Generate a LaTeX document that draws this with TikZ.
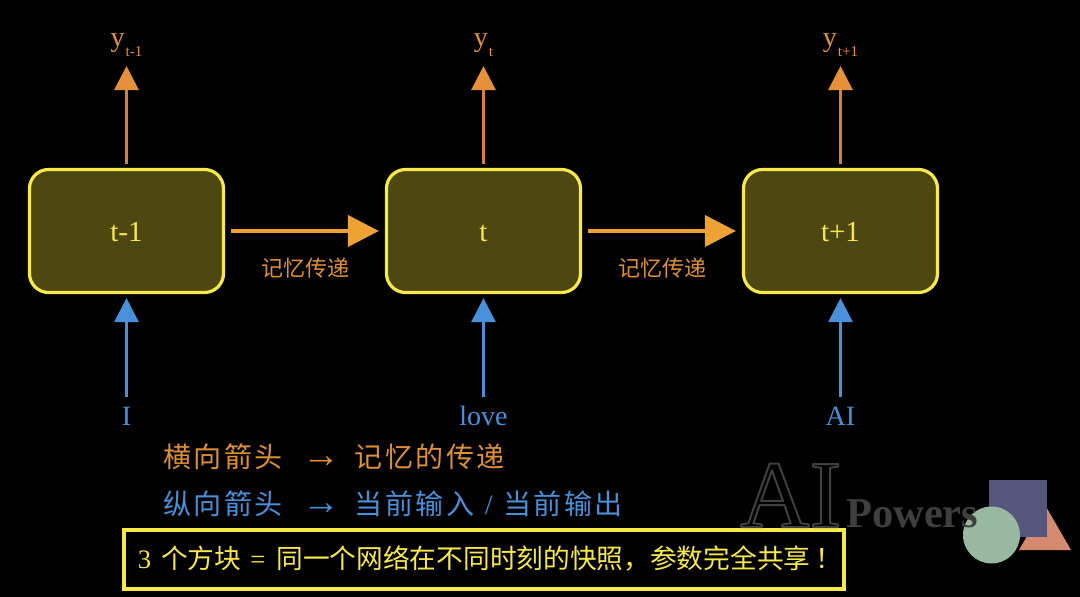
\documentclass[tikz,border=0pt]{standalone}
\usepackage{fontspec}
\usepackage{xcolor}
\usetikzlibrary{arrows.meta}
\setmainfont{Liberation Serif}
\newfontfamily\cjk{Noto Sans CJK SC}
\newfontfamily\cjkwide[LetterSpace=9]{Noto Sans CJK SC}
\definecolor{boxfill}{HTML}{4D4712}
\definecolor{boxline}{HTML}{F7E94A}
\definecolor{memline}{HTML}{EFA234}
\definecolor{outline}{HTML}{D6803C}
\definecolor{outhead}{HTML}{E5913B}
\definecolor{memtext}{HTML}{DD9035}
\definecolor{inblue}{HTML}{4A90D9}
\definecolor{logogray}{HTML}{3F3F3F}
\definecolor{logotri}{HTML}{D58A70}
\definecolor{logosq}{HTML}{55567A}
\definecolor{logocirc}{HTML}{98B8A2}
\tikzset{
  cellbox/.style={draw=boxline, fill=boxfill, line width=3.2pt, rounded corners=19pt,
    minimum width=194pt, minimum height=123pt, text=boxline, font=\fontsize{29}{29}\selectfont,
    text height=20pt, text depth=0pt, inner sep=0pt},
  outlabel/.style={anchor=south, inner sep=0pt, text=outhead, text depth=19pt,
    font=\fontsize{28}{28}\selectfont},
  inlabel/.style={anchor=north, inner sep=0pt, text=inblue, text height=28pt,
    font=\fontsize{28}{28}\selectfont},
  memlabel/.style={text=memtext, inner sep=0pt, font=\fontsize{22}{22}\selectfont\cjk},
  memarrow/.style={memline, line width=4pt, -{Triangle[width=31pt,length=31pt]},
    shorten <=6pt, shorten >=6pt},
  outarrow/.style={outline, line width=3pt, -{Triangle[width=24pt,length=24pt,color=outhead]}, shorten <=4pt},
  inarrow/.style={inblue, line width=3pt, -{Triangle[width=24pt,length=24pt]}, shorten >=4pt},
  noteline/.style={anchor=west, inner sep=0pt, font=\fontsize{28}{28}\selectfont\cjkwide}
}
\newcommand{\outname}[1]{y\raisebox{-10pt}{\fontsize{15}{15}\selectfont\kern1pt #1}}
\newcommand{\notearrow}{\hspace{20pt}{\rmfamily\fontsize{38}{38}\selectfont →}\hspace{14pt}}
\begin{document}
\begin{tikzpicture}[x=1pt,y=-1pt]
\fill[black] (0,0) rectangle (1080,597);
\useasboundingbox (0,0) rectangle (1080,597);
\def\yc{231};

% three cells with their input and output
\foreach \i/\x/\cell/\word in {1/126.5/t-1/I, 2/483.5/t/love, 3/840.5/t+1/AI}{
  \node[cellbox] (b\i) at (\x,\yc) {\cell};
  \node[outlabel] (y\i) at (\x,66) {\outname{\cell}};
  \node[inlabel] (w\i) at (\x,397) {\word};
  \draw[outarrow] (b\i) -- (y\i);
  \draw[inarrow] (w\i) -- (b\i);
}

% memory passed along
\foreach \i/\j in {1/2, 2/3}{
  \draw[memarrow] (b\i) -- (b\j);
  \path (b\i.east) -- (b\j.west) node[midway, yshift=-37pt, memlabel] (m\i) {记忆传递};
}

% notes
\node[noteline, text=memtext] (n1) at (163,457) {横向箭头\notearrow 记忆的传递};
\node[noteline, text=inblue] (n2) at (163,504) {纵向箭头\notearrow 当前输入\makebox[29pt]{\rmfamily\fontsize{28}{28}\selectfont /}当前输出};
\node[draw=boxline, line width=4pt, minimum width=720pt, minimum height=59pt, inner sep=0pt,
  text=boxline, font=\fontsize{26.7}{26.7}\selectfont\cjk] (sum) at (483.5,559)
  {\hspace{13pt}{\rmfamily 3}\hspace{10pt}个方块\hspace{9pt}{\rmfamily =}\hspace{11pt}同一个网络在不同时刻的快照，参数完全共享\hspace{5pt}！};

% logo
\fill[logotri] (1019,550) -- (1045,505) -- (1071,550) -- cycle;
\fill[logosq] (989,480) rectangle (1047,537);
\fill[logocirc] (991.5,535) circle (28.5);
\node[anchor=base west, inner sep=0pt, text=logogray, font=\fontsize{96}{96}\selectfont] (ai) at (740,527)
  {\special{pdf:code q 1 Tr 1 j 2 w 0.25 0.25 0.25 RG}AI\special{pdf:code Q}};
\node[anchor=base west, inner sep=0pt, text=logogray, font=\fontsize{42.5}{42.5}\selectfont\bfseries] (pw) at (846,527) {Powers};
\end{tikzpicture}
\end{document}
